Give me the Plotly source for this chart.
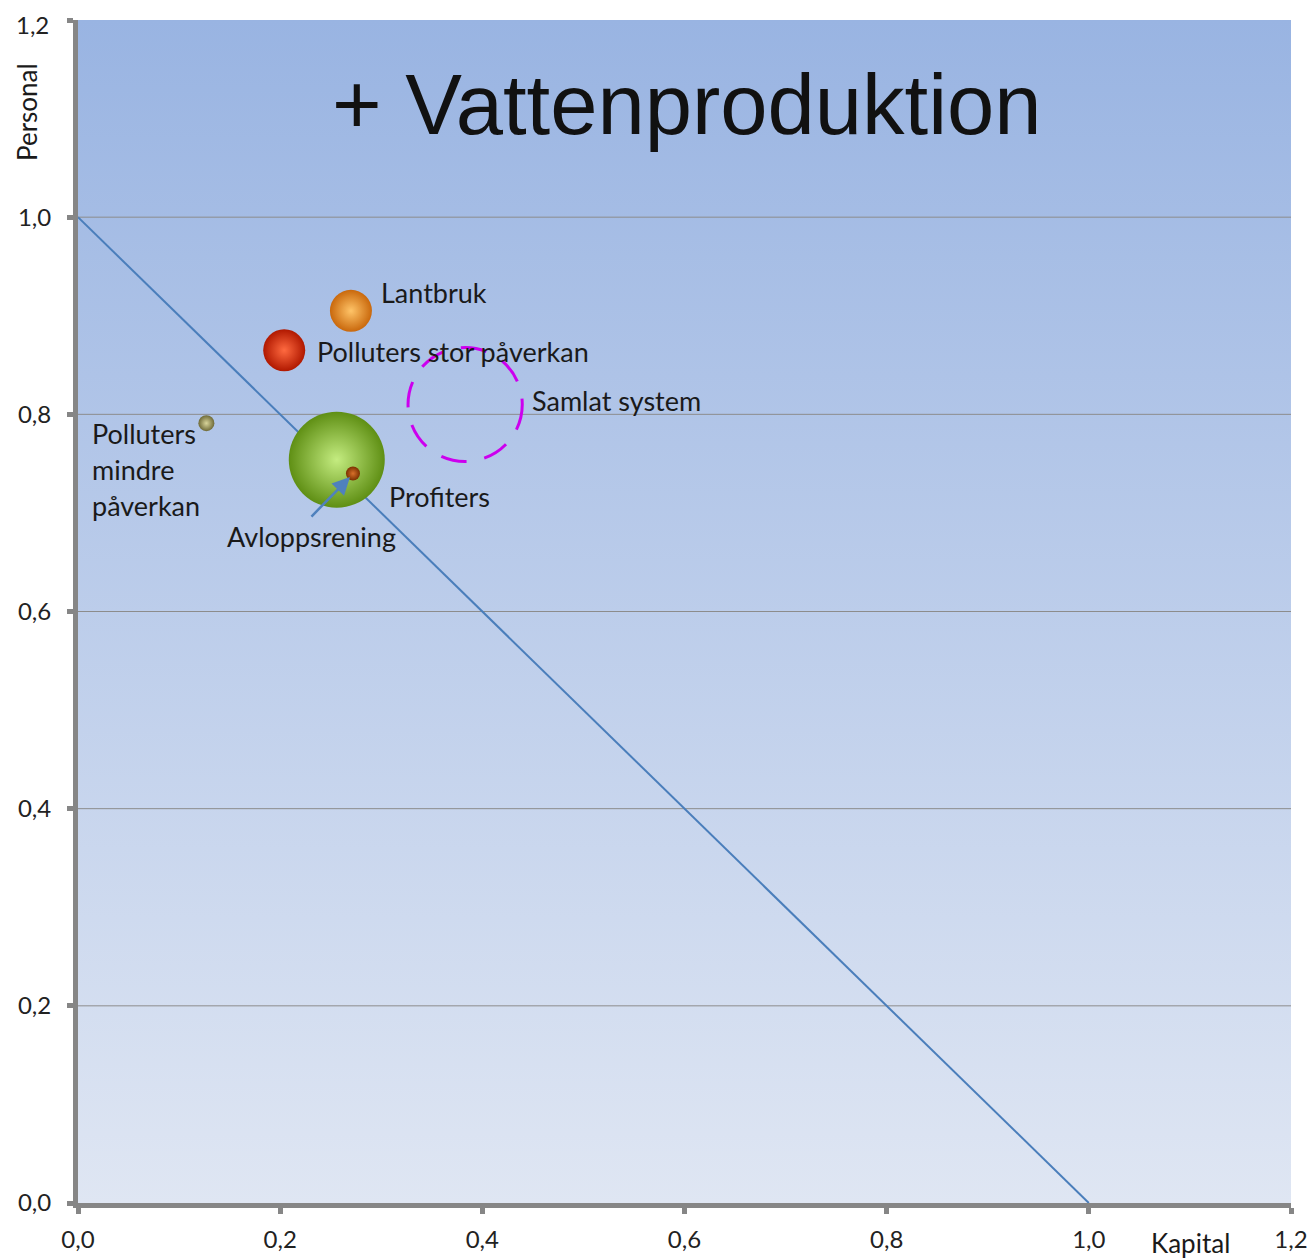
import plotly.graph_objects as go

# ---- data ----
names = ["Lantbruk", "Polluters stor påverkan", "Polluters mindre påverkan", "Profiters", "Avloppsrening"]
kapital = [0.270, 0.204, 0.127, 0.256, 0.272]
personal = [0.905, 0.865, 0.791, 0.754, 0.740]
bubble_size = [42, 42, 16, 96, 14]
outer_colors = ["#c9680c", "#b01800", "#6e6a38", "#5f8f14", "#7a3000"]
inner_colors = ["#ffc468", "#ff6a40", "#d8d49a", "#c4ec80", "#d8702a"]

samlat_center = (0.383, 0.810)
samlat_radius = (0.0565, 0.0578)

line_x = [0.0, 1.0]
line_y = [1.0, 0.0]

tick_vals = [0.0, 0.2, 0.4, 0.6, 0.8, 1.0, 1.2]
tick_text = ["0,0", "0,2", "0,4", "0,6", "0,8", "1,0", "1,2"]

FONT = "Lato"
# plot-area edges in page pixels
X0, X1, Y0, Y1 = 78, 1291, 1203, 20
PAGE_W, PAGE_H = 1316, 1260
OFF = 8  # default body margin of the page
W, H = PAGE_W - OFF, PAGE_H - OFF


def px2x(p):
    return (p - X0) / (X1 - X0) * 1.2


def px2y(p):
    return (Y0 - p) / (Y0 - Y1) * 1.2


def paperx(p):
    return (p - X0) / (X1 - X0)


def papery(p):
    return (Y0 - p) / (Y0 - Y1)


fig = go.Figure()

# gradient background
fig.add_trace(go.Scatter(
    x=[0, 1.2, 1.2, 0, 0], y=[0, 0, 1.2, 1.2, 0], mode="lines",
    line=dict(width=0), fill="toself",
    fillgradient=dict(type="vertical", colorscale=[[0, "#dfe6f3"], [1, "#99b4e2"]]),
    hoverinfo="skip", showlegend=False))

# horizontal grid lines
for v in tick_vals[1:-1]:
    fig.add_trace(go.Scatter(x=[0, 1.2], y=[v, v], mode="lines",
                             line=dict(color="#8c8c8c", width=1),
                             hoverinfo="skip", showlegend=False))

# diagonal line
fig.add_trace(go.Scatter(x=line_x, y=line_y, mode="lines",
                         line=dict(color="#4a7ebb", width=2),
                         hoverinfo="skip", showlegend=False))

# bubbles
for i in range(len(names)):
    fig.add_trace(go.Scatter(
        x=[kapital[i]], y=[personal[i]], mode="markers", name=names[i],
        marker=dict(size=bubble_size[i], color=outer_colors[i],
                    gradient=dict(type="radial", color=inner_colors[i]),
                    line=dict(width=0)),
        showlegend=False))

# dashed circle (Samlat system)
fig.add_shape(type="circle", xref="x", yref="y",
              x0=samlat_center[0] - samlat_radius[0], x1=samlat_center[0] + samlat_radius[0],
              y0=samlat_center[1] - samlat_radius[1], y1=samlat_center[1] + samlat_radius[1],
              line=dict(color="#cc00ee", width=3, dash="26px,18px"))

lab_font = dict(family=FONT, size=27, color="#1a1a1a")
labels = [
    ("Lantbruk", 379, 292),
    ("Polluters stor påverkan", 315, 351),
    ("Samlat system", 530, 400),
    ("Polluters", 90, 433),
    ("mindre", 90, 469),
    ("påverkan", 90, 505),
    ("Profiters", 387, 496),
    ("Avloppsrening", 225, 536),
]
for t, px, py in labels:
    fig.add_annotation(x=px2x(px), y=px2y(py), xref="x", yref="y", text=t,
                       showarrow=False, xanchor="left", yanchor="middle", font=lab_font)

# arrow
fig.add_annotation(x=px2x(350), y=px2y(477), ax=px2x(310), ay=px2y(518),
                   xref="x", yref="y", axref="x", ayref="y", text="",
                   showarrow=True, arrowhead=2, arrowsize=1.4, arrowwidth=2.5,
                   arrowcolor="#4f81bd")

# title
fig.add_annotation(x=px2x(687), y=px2y(104), xref="x", yref="y",
                   text="+ Vattenproduktion", showarrow=False,
                   font=dict(family="Liberation Sans", size=85, color="#111111"))

# axis titles
fig.add_annotation(x=paperx(27), y=papery(112), xref="paper", yref="paper", text="Personal",
                   textangle=-90, showarrow=False, xanchor="center", yanchor="middle",
                   font=dict(family=FONT, size=26, color="#1a1a1a"))
fig.add_annotation(x=paperx(1190), y=papery(1243), xref="paper", yref="paper", text="Kapital",
                   showarrow=False, xanchor="center", yanchor="middle",
                   font=dict(family=FONT, size=26, color="#1a1a1a"))

tick_font = dict(family=FONT, size=24, color="#222222")

# top y tick label placed so it stays inside the figure
fig.add_annotation(x=paperx(51), y=papery(OFF), xref="paper", yref="paper",
                   text=tick_text[-1], showarrow=False, xanchor="right", yanchor="top",
                   font=tick_font)
y_tick_text = tick_text[:-1] + [""]

fig.update_layout(
    width=W, height=H,
    margin=dict(l=X0 - OFF, r=PAGE_W - X1, t=Y1 - OFF, b=PAGE_H - Y0, autoexpand=False),
    paper_bgcolor="white", plot_bgcolor="white",
    showlegend=False,
    separators=", ",
)
axis_common = dict(tickvals=tick_vals,
                   showgrid=False, zeroline=False, showline=True, automargin=False,
                   linecolor="#868686", linewidth=5, ticks="outside",
                   ticklen=6, tickwidth=5, tickcolor="#868686",
                   ticklabeloverflow="allow", tickfont=tick_font)
fig.update_xaxes(**axis_common, ticktext=tick_text, range=[0, 1.2], ticklabelstandoff=5)
fig.update_yaxes(**axis_common, ticktext=y_tick_text, range=[0, 1.20001], ticklabelstandoff=11)

fig.write_html("out.html")
